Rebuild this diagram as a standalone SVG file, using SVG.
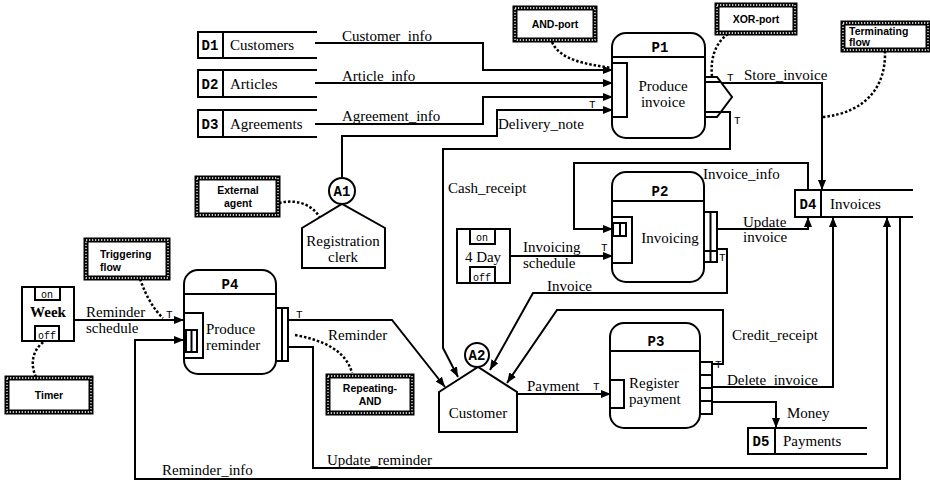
<svg xmlns="http://www.w3.org/2000/svg" width="930" height="482" viewBox="0 0 930 482">
<defs>
<marker id="arr" viewBox="0 0 10 8" refX="10" refY="4" markerWidth="10" markerHeight="8" markerUnits="userSpaceOnUse" orient="auto">
<path d="M0,0 L10,4 L0,8 z" fill="#000"/>
</marker>
</defs>
<style>
.ln{fill:none;stroke:#000;stroke-width:2}
.fl{fill:none;stroke:#000;stroke-width:2;marker-end:url(#arr)}
.shp{fill:#fff;stroke:#000;stroke-width:2}
.txt{font-family:"Liberation Serif",serif;font-size:15px;fill:#000}
.mid{text-anchor:middle}
.mono{font-family:"Liberation Mono",monospace;font-weight:bold;font-size:14px;fill:#000}
.tk{font-family:"Liberation Mono",monospace;font-size:11px;fill:#000}
.sm{font-family:"Liberation Mono",monospace;font-size:10px;fill:#000}
.nb{fill:#fff;stroke:#000;stroke-width:5}
.nd{fill:none;stroke:#fff;stroke-width:1.3;stroke-dasharray:1.3 1.7}
.nt{font-family:"Liberation Sans",sans-serif;font-weight:bold;font-size:10.5px;fill:#000}
.dot{fill:none;stroke:#000;stroke-width:2.5;stroke-dasharray:2.5 2}
</style>

<!-- connectors -->
<g id="connectors">
<polyline class="fl" points="315,43 483,43 483,70 613,70"/>
<polyline class="fl" points="315,83 613,83"/>
<polyline class="fl" points="315,124 483,124 483,97 613,97"/>
<polyline class="fl" points="342,178 342,136 497,136 497,110 613,110"/>
<polyline class="fl" points="722,83 822,83 822,190"/>
<polyline class="fl" points="718,112 730,112 730,149 443,149 443,348 458,377"/>
<polyline class="fl" points="808,190 808,163 574,163 574,229 613,229"/>
<polyline class="fl" points="510,256 613,256"/>
<polyline class="fl" points="717,229 808,229 808,217"/>
<polyline class="fl" points="717,249 727,249 727,293 533,293 490,370"/>
<polyline class="fl" points="712,364 723,364 723,310 557,310 507,383"/>
<polyline class="fl" points="712,387 833,387 833,217"/>
<polyline class="fl" points="712,402 776,402 776,428"/>
<polyline class="fl" points="517,394 611,394"/>
<polyline class="fl" points="74,320 184,320"/>
<polyline class="fl" points="288,320 392,320 445,387"/>
<polyline class="fl" points="900,217 900,479 135,479 135,340 184,340"/>
<polyline class="fl" points="288,347 313,347 313,468 887,468 887,217"/>
<!-- annotation pointers -->
<path class="dot" d="M552,42 C560,60 585,64 612,68"/>
<path class="dot" d="M728,34 C716,42 710,58 712,76"/>
<path class="dot" d="M885,51 C886,85 868,112 823,117"/>
<path class="dot" d="M279,203 C300,198 316,207 322,222"/>
<path class="dot" d="M140,279 C146,296 154,310 163,318"/>
<path class="dot" d="M36,377 C29,362 34,348 45,341"/>
<path class="dot" d="M295,335 C322,340 346,350 352,373"/>
</g>

<!-- connector labels -->
<g id="labels">
<text class="txt" x="342" y="41">Customer_info</text>
<text class="txt" x="342" y="81">Article_info</text>
<text class="txt" x="342" y="121">Agreement_info</text>
<text class="txt" x="498" y="129">Delivery_note</text>
<text class="txt" x="744" y="80">Store_invoice</text>
<text class="txt" x="448" y="193">Cash_receipt</text>
<text class="txt" x="703" y="179">Invoice_info</text>
<text class="txt" x="523" y="252">Invoicing</text>
<text class="txt" x="523" y="268">schedule</text>
<text class="txt" x="743" y="227">Update</text>
<text class="txt" x="743" y="242">invoice</text>
<text class="txt" x="547" y="291">Invoice</text>
<text class="txt" x="732" y="340">Credit_receipt</text>
<text class="txt" x="727" y="385">Delete_invoice</text>
<text class="txt" x="787" y="418">Money</text>
<text class="txt" x="527" y="391">Payment</text>
<text class="txt" x="86" y="317">Reminder</text>
<text class="txt" x="86" y="333">schedule</text>
<text class="txt" x="328" y="340">Reminder</text>
<text class="txt" x="327" y="465">Update_reminder</text>
<text class="txt" x="162" y="475">Reminder_info</text>
<text class="tk" x="589" y="108">T</text>
<text class="tk" x="727" y="81">T</text>
<text class="tk" x="734" y="124">T</text>
<text class="tk" x="601" y="251">T</text>
<text class="tk" x="719" y="261">T</text>
<text class="tk" x="166" y="318">T</text>
<text class="tk" x="296" y="318">T</text>
<text class="tk" x="593" y="390">T</text>
<text class="tk" x="715" y="368">T</text>
</g>

<!-- data stores -->
<g id="D1">
<path class="ln" d="M317,32 H198 V58 H317 M223,32 V58"/>
<text class="mono mid" x="210" y="50">D1</text>
<text class="txt" x="230" y="50">Customers</text>
</g>
<g id="D2">
<path class="ln" d="M317,70 H198 V97 H317 M223,70 V97"/>
<text class="mono mid" x="210" y="89">D2</text>
<text class="txt" x="230" y="89">Articles</text>
</g>
<g id="D3">
<path class="ln" d="M317,110 H198 V137 H317 M223,110 V137"/>
<text class="mono mid" x="210" y="129">D3</text>
<text class="txt" x="230" y="129">Agreements</text>
</g>
<g id="D4">
<path class="ln" d="M913,190 H795 V217 H913 M821,190 V217"/>
<text class="mono mid" x="808" y="209">D4</text>
<text class="txt" x="830" y="209">Invoices</text>
</g>
<g id="D5">
<path class="ln" d="M867,428 H748 V454 H867 M775,428 V454"/>
<text class="mono mid" x="761" y="446">D5</text>
<text class="txt" x="783" y="446">Payments</text>
</g>

<!-- processes -->
<g id="P1">
<rect class="shp" x="612" y="33" width="93" height="105" rx="14"/>
<line class="ln" x1="612" y1="57" x2="705" y2="57"/>
<text class="mono mid" x="660" y="52">P1</text>
<rect class="shp" x="612" y="63" width="15" height="54"/>
<polygon class="shp" points="705,77 717,77 732,97 717,117 705,117"/>
<path class="ln" d="M705,82 H720 M705,112 H720"/>
<text class="txt mid" x="663" y="91">Produce</text>
<text class="txt mid" x="663" y="107">invoice</text>
</g>
<g id="P2">
<rect class="shp" x="612" y="172" width="92" height="110" rx="14"/>
<line class="ln" x1="612" y1="201" x2="704" y2="201"/>
<text class="mono mid" x="660" y="196">P2</text>
<rect class="shp" x="612" y="217" width="20" height="46"/>
<rect class="shp" x="613" y="223" width="13" height="13"/>
<line class="ln" x1="620" y1="223" x2="620" y2="236"/>
<rect class="shp" x="704" y="212" width="13" height="50"/>
<path class="ln" d="M710.5,212 V262 M704,251 H717"/>
<text class="txt mid" x="670" y="243">Invoicing</text>
</g>
<g id="P3">
<rect class="shp" x="610" y="323" width="90" height="105" rx="14"/>
<line class="ln" x1="610" y1="351" x2="700" y2="351"/>
<text class="mono mid" x="656" y="346">P3</text>
<rect class="shp" x="610" y="380" width="14" height="28"/>
<rect class="shp" x="700" y="362" width="12" height="52"/>
<path class="ln" d="M700,375 H712 M700,388 H712 M700,401 H712"/>
<text class="txt" x="629" y="388">Register</text>
<text class="txt" x="629" y="404">payment</text>
</g>
<g id="P4">
<rect class="shp" x="184" y="270" width="92" height="104" rx="14"/>
<line class="ln" x1="184" y1="294" x2="276" y2="294"/>
<text class="mono mid" x="230" y="289">P4</text>
<rect class="shp" x="184" y="313" width="19" height="45"/>
<rect class="shp" x="186" y="330" width="11" height="22"/>
<line class="ln" x1="191.5" y1="330" x2="191.5" y2="352"/>
<rect class="shp" x="276" y="308" width="12" height="53"/>
<line class="ln" x1="282" y1="308" x2="282" y2="361"/>
<text class="txt" x="206" y="334">Produce</text>
<text class="txt" x="206" y="350">reminder</text>
</g>

<!-- external agents -->
<g id="A1">
<polygon class="shp" points="302,228 342,204 385,228 385,268 302,268"/>
<circle class="shp" cx="342" cy="191" r="13"/>
<text class="mono mid" x="342" y="196" font-size="12">A1</text>
<text class="txt mid" x="343" y="246">Registration</text>
<text class="txt mid" x="343" y="262">clerk</text>
</g>
<g id="A2">
<polygon class="shp" points="439,392 478,367 517,392 517,432 439,432"/>
<circle class="shp" cx="477" cy="355" r="12"/>
<text class="mono mid" x="477" y="360" font-size="12">A2</text>
<text class="txt mid" x="478" y="418">Customer</text>
</g>

<!-- timers -->
<g id="Week">
<rect class="shp" x="22" y="287" width="52" height="54"/>
<rect class="shp" x="35" y="287" width="25" height="13"/>
<rect class="shp" x="35" y="326" width="24" height="15"/>
<text class="sm mid" x="47" y="298">on</text>
<text class="sm mid" x="47" y="339">off</text>
<text class="txt mid" x="48" y="317" font-weight="bold">Week</text>
</g>
<g id="Day4">
<rect class="shp" x="457" y="229" width="53" height="54"/>
<rect class="shp" x="470" y="229" width="25" height="15"/>
<rect class="shp" x="470" y="267" width="25" height="16"/>
<text class="sm mid" x="482" y="241">on</text>
<text class="sm mid" x="482" y="281">off</text>
<text class="txt mid" x="483" y="262">4 Day</text>
</g>

<!-- annotations -->
<g id="note-and-port">
<rect class="nb" x="515" y="8" width="80" height="32"/>
<rect class="nd" x="515" y="8" width="80" height="32"/>
<text class="nt" x="555" y="28" text-anchor="middle">AND-port</text>
</g>
<g id="note-xor-port">
<rect class="nb" x="717" y="5" width="78" height="28"/>
<rect class="nd" x="717" y="5" width="78" height="28"/>
<text class="nt" x="756" y="23" text-anchor="middle">XOR-port</text>
</g>
<g id="note-terminating">
<rect class="nb" x="843" y="23" width="85" height="27"/>
<rect class="nd" x="843" y="23" width="85" height="27"/>
<text class="nt" x="849" y="35">Terminating</text>
<text class="nt" x="849" y="46">flow</text>
</g>
<g id="note-external">
<rect class="nb" x="197" y="178" width="81" height="37"/>
<rect class="nd" x="197" y="178" width="81" height="37"/>
<text class="nt" x="238" y="194" text-anchor="middle">External</text>
<text class="nt" x="238" y="207" text-anchor="middle">agent</text>
</g>
<g id="note-triggering">
<rect class="nb" x="86" y="240" width="82" height="38"/>
<rect class="nd" x="86" y="240" width="82" height="38"/>
<text class="nt" x="100" y="258">Triggering</text>
<text class="nt" x="100" y="271">flow</text>
</g>
<g id="note-timer">
<rect class="nb" x="7" y="378" width="84" height="34"/>
<rect class="nd" x="7" y="378" width="84" height="34"/>
<text class="nt" x="49" y="399" text-anchor="middle">Timer</text>
</g>
<g id="note-repeating">
<rect class="nb" x="328" y="376" width="84" height="37"/>
<rect class="nd" x="328" y="376" width="84" height="37"/>
<text class="nt" x="370" y="392" text-anchor="middle">Repeating-</text>
<text class="nt" x="370" y="405" text-anchor="middle">AND</text>
</g>
</svg>
